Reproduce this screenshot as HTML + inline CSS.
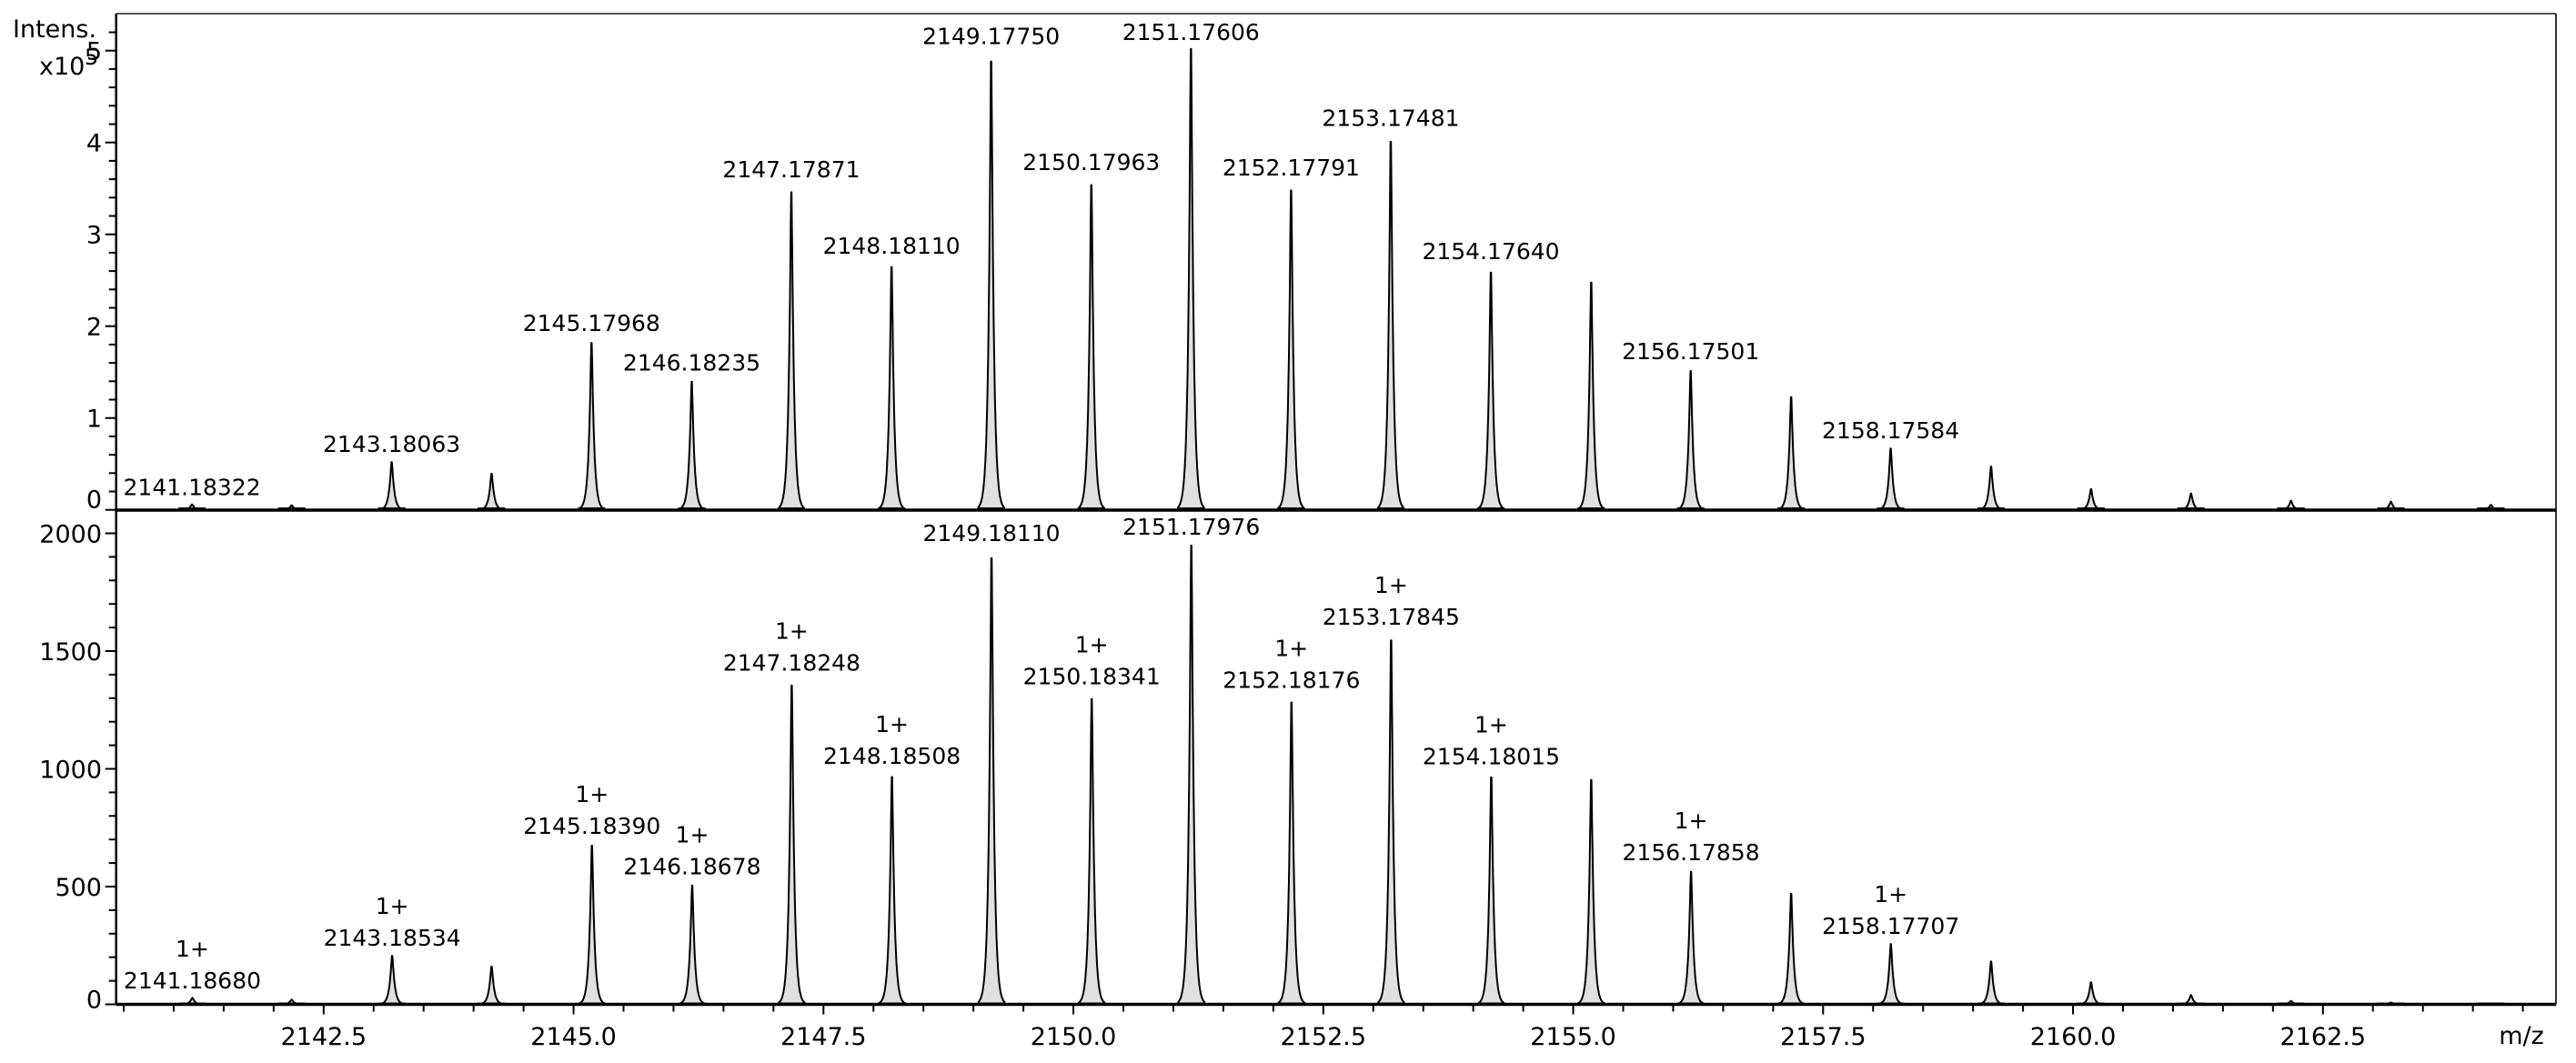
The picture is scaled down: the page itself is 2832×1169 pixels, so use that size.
<!DOCTYPE html>
<html><head><meta charset="utf-8"><title>Mass spectrum</title>
<style>
html,body{margin:0;padding:0;background:#fff;}
svg{display:block;}
text{font-family:"DejaVu Sans","Liberation Sans",sans-serif;fill:#000;}
</style></head>
<body>
<svg id="chart" width="2832" height="1169" viewBox="0 0 2832 1169" xmlns="http://www.w3.org/2000/svg">
<g id="axes"></g>
<g id="peaksTop"></g>
<g id="peaksBot"></g>
<g id="labels"></g>
<text x="14" y="41" font-size="27">Intens.</text>
<text x="43" y="82" font-size="27">x10</text>
<text x="93" y="71" font-size="24">5</text>
<text x="2772" y="1148" font-size="27" text-anchor="middle">m/z</text>
</svg>
<script>
// ---- data ----
const topMz = [2141.18322,2142.18,2143.18063,2144.18,2145.17968,2146.18235,2147.17871,2148.18110,2149.17750,2150.17963,2151.17606,2152.17791,2153.17481,2154.17640,2155.18,2156.17501,2157.18,2158.17584,2159.18,2160.18,2161.18,2162.18,2163.18,2164.18];
const topInt = [0.06,0.05,0.53,0.40,1.85,1.42,3.52,2.69,4.97,3.60,5.11,3.54,4.08,2.63,2.52,1.54,1.25,0.68,0.48,0.23,0.18,0.10,0.09,0.055];
const topLabels = ["2141.18322","","2143.18063","","2145.17968","2146.18235","2147.17871","2148.18110","2149.17750","2150.17963","2151.17606","2152.17791","2153.17481","2154.17640","","2156.17501","","2158.17584","","","","","",""];
const botMz = [2141.18680,2142.18,2143.18534,2144.18,2145.18390,2146.18678,2147.18248,2148.18508,2149.18110,2150.18341,2151.17976,2152.18176,2153.17845,2154.18015,2155.18,2156.17858,2157.18,2158.17707,2159.18,2160.18,2161.18,2162.18,2163.18,2164.18];
const botInt = [28,20,210,163,686,514,1378,983,1929,1320,1983,1305,1573,981,970,573,478,261,185,95,40,15,8,4];
const botLabels = ["2141.18680","","2143.18534","","2145.18390","2146.18678","2147.18248","2148.18508","2149.18110","2150.18341","2151.17976","2152.18176","2153.17845","2154.18015","","2156.17858","","2158.17707","","","","","",""];
const botCharge = ["1+","","1+","","1+","1+","1+","1+","","1+","","1+","1+","1+","","1+","","1+","","","","","",""];
const xTickLabels = ["2142.5","2145.0","2147.5","2150.0","2152.5","2155.0","2157.5","2160.0","2162.5"];
const topTickLabels = ["0","1","2","3","4","5"];
const botTickLabels = ["0","500","1000","1500","2000"];

// ---- scales ----
const X0=127.7, X1=2810, TOP=15, MID=561, BOT=1104.5;
function xs(m){return 355.8+(m-2142.5)*109.9;}
function yTop(v){return 560.7-v*101;}
function yBot(v){return BOT-v*0.259;}
const NS="http://www.w3.org/2000/svg";
function mk(tag,attrs,parent){const e=document.createElementNS(NS,tag);for(const k in attrs)e.setAttribute(k,attrs[k]);parent.appendChild(e);return e;}
const axes=document.getElementById('axes');

// frame
let el=mk('line',{x1:X0,y1:TOP,x2:X1,y2:TOP,stroke:'#555','stroke-width':2},axes);


el=mk('line',{x1:X1,y1:TOP,x2:X1,y2:BOT,stroke:'#333','stroke-width':2},axes);


el=mk('line',{x1:X0,y1:TOP,x2:X0,y2:BOT+1,stroke:'#000','stroke-width':2.5},axes);



// y ticks top
for(let i=0;i<=26;i++){
  const v=i*0.2, y=yTop(v), major=(i%5===0);
  el=mk('line',{x1:major?X0-12:X0-8,y1:y,x2:X0,y2:y,stroke:'#000','stroke-width':2},axes);
  
  
}
topTickLabels.forEach((t,i)=>{
  const y=yTop(+t)+(i===0?-12:0);
  el=mk('text',{x:112,y:y+10,'font-size':27,'text-anchor':'end'},axes);
  el.textContent=t;
  
  
});
// y ticks bottom
for(let v=0;v<=2000;v+=100){
  const y=yBot(v), major=(v%500===0);
  el=mk('line',{x1:major?X0-12:X0-8,y1:y,x2:X0,y2:y,stroke:'#000','stroke-width':2},axes);
  
  
}
botTickLabels.forEach((t,i)=>{
  const y=yBot(+t)+(i===0?-6:0);
  el=mk('text',{x:112,y:y+10,'font-size':27,'text-anchor':'end'},axes);
  el.textContent=t;
  
  
});
// x ticks
for(let k=0;k<=48;k++){
  const m=2140.5+k*0.5, x=xs(m); if(x>X1-2) break;
  const major=(Math.abs((m-2142.5)/2.5-Math.round((m-2142.5)/2.5))<1e-6);
  el=mk('line',{x1:x,y1:BOT,x2:x,y2:BOT+(major?11:8),stroke:'#000','stroke-width':2},axes);
  
  
}
xTickLabels.forEach(t=>{
  el=mk('text',{x:xs(+t),y:1149,'font-size':27,'text-anchor':'middle'},axes);
  el.textContent=t;
  
  
});

// peaks
const W=0.024;
function drawSpectrum(mzs,ints,yf,baseY,g,name){
  let d='M'+X0+','+baseY;
  let fill='';
  mzs.forEach((m,i)=>{
    let seg=[];
    for(let dx=-0.13;dx<=0.1301;dx+=0.004){
      const a=Math.abs(dx);
      const f=Math.exp(-Math.sqrt(a*a+0.00002)/W)/Math.exp(-Math.sqrt(0.00002)/W);
      seg.push([xs(m+dx),yf(ints[i]*f)-0.0]);
    }
    const pd='M'+seg[0][0].toFixed(1)+','+baseY+' '+seg.map(p=>'L'+p[0].toFixed(1)+','+p[1].toFixed(1)).join(' ')+' L'+seg[seg.length-1][0].toFixed(1)+','+baseY+' Z';
    const p=mk('path',{d:pd,fill:'#e0e0e0',stroke:'#000','stroke-width':2,'stroke-linejoin':'round'},g);
    
    
  });
}
drawSpectrum(topMz,topInt,yTop,559,document.getElementById('peaksTop'),'top');
drawSpectrum(botMz,botInt,yBot,BOT-1,document.getElementById('peaksBot'),'bottom');

// baselines / divider
el=mk('line',{x1:X0,y1:MID,x2:X1,y2:MID,stroke:'#000','stroke-width':3.5},axes);


el=mk('line',{x1:X0,y1:BOT,x2:X1,y2:BOT,stroke:'#000','stroke-width':3.5},axes);



// labels
const lg=document.getElementById('labels');
topLabels.forEach((t,i)=>{
  if(!t) return;
  const by=Math.max(yTop(topInt[i])-10,44);
  const e=mk('text',{x:xs(topMz[i]),y:by,'font-size':25,'text-anchor':'middle'},lg);
  e.textContent=t;
  
  
});
botLabels.forEach((t,i)=>{
  if(!t) return;
  const by=Math.max(yBot(botInt[i])-10,588);
  const e=mk('text',{x:xs(botMz[i]),y:by,'font-size':25,'text-anchor':'middle'},lg);
  e.textContent=t;
  
  
  if(botCharge[i]){
    const c=mk('text',{x:xs(botMz[i]),y:by-35,'font-size':25,'text-anchor':'middle'},lg);
    c.textContent=botCharge[i];
    
    
  }
});
</script>
</body></html>
